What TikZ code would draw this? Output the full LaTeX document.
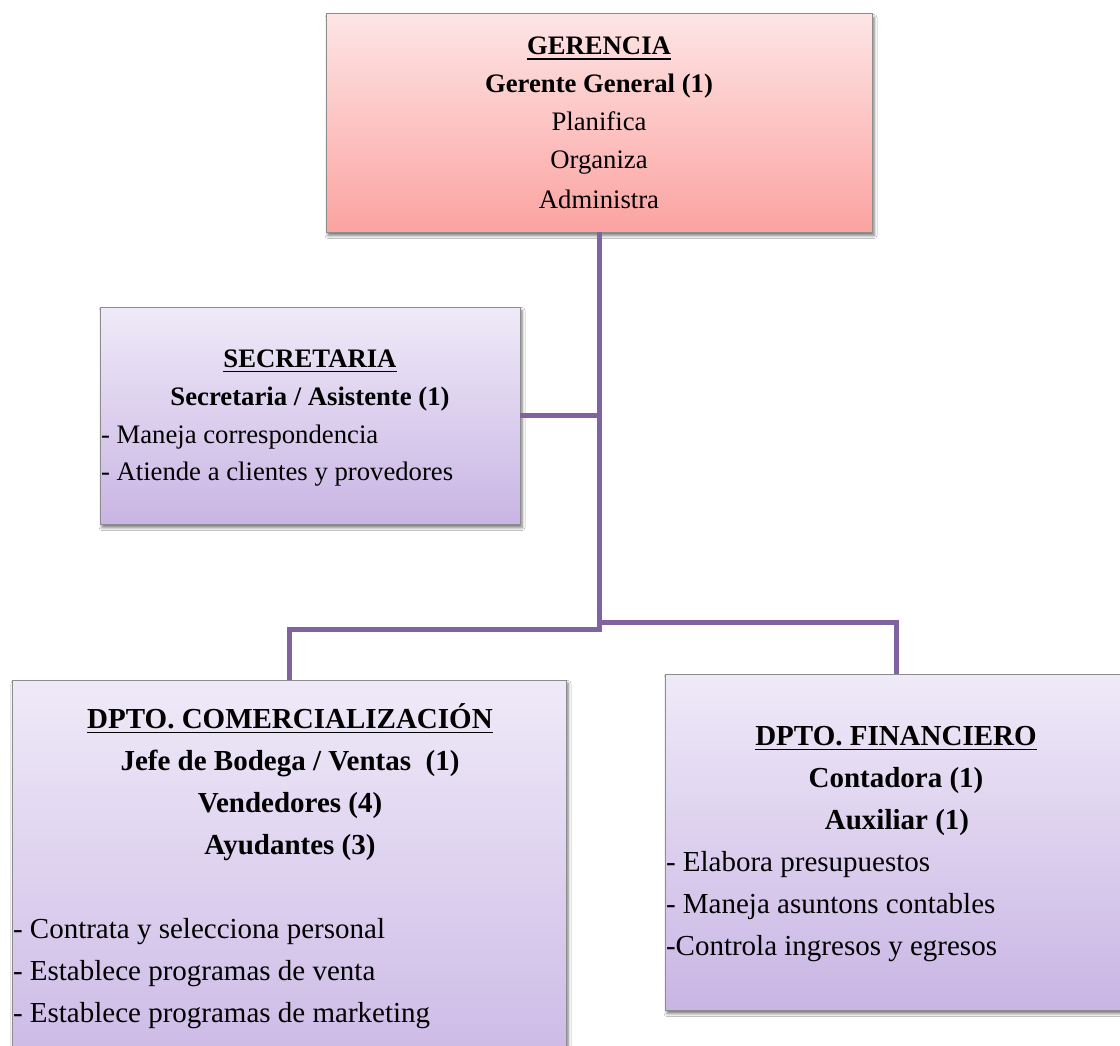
\documentclass[tikz,border=0pt]{standalone}
\usepackage{fontspec}
\setmainfont{Liberation Serif}
\usetikzlibrary{shadows,shadows.blur}
\definecolor{connc}{RGB}{128,100,162}
\definecolor{pinkT}{RGB}{253,229,229}
\definecolor{pinkB}{RGB}{251,163,161}
\definecolor{purT}{RGB}{239,234,248}
\definecolor{purB}{RGB}{201,181,228}
\definecolor{bord}{RGB}{140,140,140}
\newcommand{\myul}[1]{\setbox0=\hbox{#1}\rlap{\copy0}\rule[-5pt]{\wd0}{1.5pt}}
\begin{document}
\begin{tikzpicture}[x=1pt,y=-1pt,
 box/.style={draw=bord, line width=1pt, rectangle, inner sep=0pt, outer sep=0pt, anchor=north west,
   blur shadow={shadow xshift=2pt, shadow yshift=-3.5pt, shadow blur radius=3pt, shadow opacity=55}},
 pinkbox/.style={box, top color=pinkT, bottom color=pinkB},
 purbox/.style={box, top color=purT, bottom color=purB},
 conn/.style={draw=connc, line width=5pt},
 small/.style={font=\fontsize{26.7}{32}\selectfont, inner sep=0pt, outer sep=0pt},
 big/.style={font=\fontsize{29}{35}\selectfont, inner sep=0pt, outer sep=0pt},
]
\fill[white] (0,0) rectangle (1120,1046);
\useasboundingbox (0,0) rectangle (1120,1046);

% boxes
\node[pinkbox, minimum width=546pt, minimum height=218pt] (ger) at (326,14) {};
\node[purbox, minimum width=420pt, minimum height=217pt] (sec) at (100,307) {};
\node[purbox, minimum width=554pt, minimum height=420pt] (com) at (12,680) {};
\node[purbox, minimum width=462pt, minimum height=336pt] (fin) at (665,674) {};

% connectors
\path (ger.south) ++(0,397) coordinate (jc);
\path (ger.south) ++(0,390) coordinate (jr);
\draw[conn] (ger.south) -- (jc) -| (com.north);
\draw[conn] (jr) -| (fin.north);
\draw[conn] (sec.east) -- (sec.east -| ger.south);

% GERENCIA
\node[small, anchor=base] (g1) at (599,55) {\textbf{\myul{GERENCIA}}};
\node[small, anchor=base] (g2) at (599,93) {\textbf{Gerente General (1)}};
\node[small, anchor=base] (g3) at (599,131) {Planifica};
\node[small, anchor=base] (g4) at (599,169) {Organiza};
\node[small, anchor=base] (g5) at (599,208) {Administra};

% SECRETARIA
\node[small, anchor=base] (s1) at (310,367) {\textbf{\myul{SECRETARIA}}};
\node[small, anchor=base] (s2) at (310,405) {\textbf{Secretaria / Asistente (1)}};
\node[small, anchor=base west] (s3) at (101,443) {- Maneja correspondencia};
\node[small, anchor=base west] (s4) at (101,480) {- Atiende a clientes y provedores};

% COMERCIALIZACION
\node[big, anchor=base] (c1) at (290,728) {\textbf{\myul{DPTO. COMERCIALIZACIÓN}}};
\node[big, anchor=base] (c2) at (290,770) {\textbf{Jefe de Bodega / Ventas~~(1)}};
\node[big, anchor=base] (c3) at (290,812) {\textbf{Vendedores (4)}};
\node[big, anchor=base] (c4) at (290,854) {\textbf{Ayudantes (3)}};
\node[big, anchor=base west] (c5) at (13,938) {- Contrata y selecciona personal};
\node[big, anchor=base west] (c6) at (13,980) {- Establece programas de venta};
\node[big, anchor=base west] (c7) at (13,1022) {- Establece programas de marketing};

% FINANCIERO
\node[big, anchor=base] (f1) at (896,745) {\textbf{\myul{DPTO. FINANCIERO}}};
\node[big, anchor=base] (f2) at (896,787) {\textbf{Contadora (1)}};
\node[big, anchor=base] (f3) at (897,829) {\textbf{Auxiliar (1)}};
\node[big, anchor=base west] (f4) at (666,871) {- Elabora presupuestos};
\node[big, anchor=base west] (f5) at (666,913) {- Maneja asuntons contables};
\node[big, anchor=base west] (f6) at (666,955) {-Controla ingresos y egresos};
\end{tikzpicture}
\end{document}
